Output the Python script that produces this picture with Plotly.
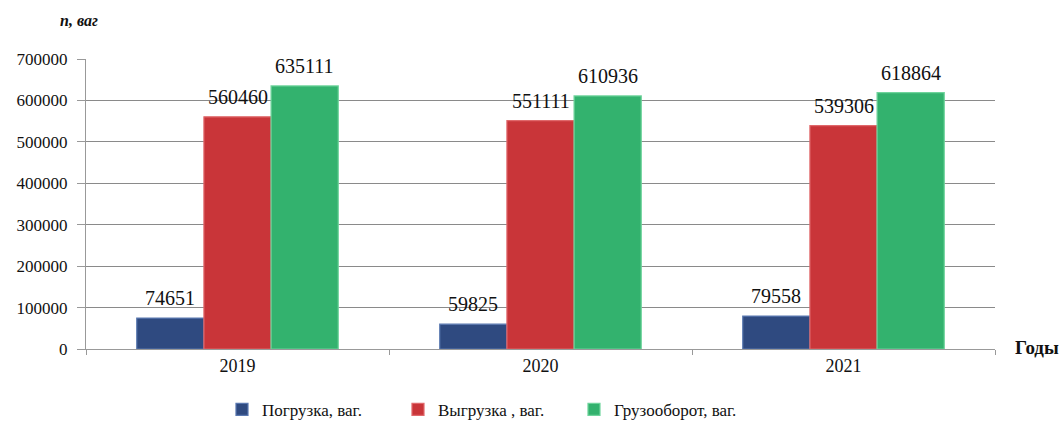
import plotly.graph_objects as go

years = ["2019", "2020", "2021"]
loading = [74651, 59825, 79558]
unloading = [560460, 551111, 539306]
turnover = [635111, 610936, 618864]

series = [
    ("Погрузка, ваг.", loading, "#2f4a80", "#5a78b0"),
    ("Выгрузка , ваг.", unloading, "#c93539", "#e0686b"),
    ("Грузооборот, ваг.", turnover, "#33b26e", "#6fd49c"),
]

font = "Liberation Serif, serif"
bargap = 0.335
bar_w = (1 - bargap) / len(series)  # width of one bar in category units

fig = go.Figure()
annotations = []
for k, (name, vals, color, edge) in enumerate(series):
    fig.add_trace(go.Bar(
        x=years, y=vals, name=name,
        marker=dict(color=color, line=dict(color=edge, width=1.2)),
    ))
    offset = (k - (len(series) - 1) / 2) * bar_w
    for i, v in enumerate(vals):
        annotations.append(dict(
            x=i + offset, y=v, xref="x", yref="y", text=str(v),
            showarrow=False, yanchor="bottom", yshift=7,
            font=dict(family=font, size=20, color="#111"),
        ))

annotations += [
    dict(text="<b><i>n, ваг</i></b>", x=-0.031, y=1.134, xref="paper", yref="paper",
         xanchor="left", yanchor="middle", showarrow=False,
         font=dict(family=font, size=16)),
    dict(text="<b>Годы</b>", x=1.0198, y=0, xref="paper", yref="paper",
         xanchor="left", yanchor="middle", showarrow=False, yshift=2,
         font=dict(family=font, size=19)),
]

fig.update_layout(
    width=1061, height=421,
    margin=dict(l=86, r=66, t=59, b=72, autoexpand=False),
    paper_bgcolor="white", plot_bgcolor="white",
    barmode="group", bargap=bargap, bargroupgap=0,
    font=dict(family=font, size=16, color="#111"),
    showlegend=True,
    legend=dict(orientation="h", x=0.1496, xanchor="left", y=-0.21, yanchor="middle",
                font=dict(family=font, size=17), itemwidth=30, tracegroupgap=0,
                entrywidth=131),
    xaxis=dict(showline=True, linecolor="#999", linewidth=1, ticks="outside",
               tickson="boundaries", ticklen=5, tickcolor="#999",
               tickfont=dict(family=font, size=18), showgrid=False),
    yaxis=dict(range=[0, 700000], dtick=100000, showgrid=True, gridcolor="#8a8a8a",
               gridwidth=1, showline=True, linecolor="#999", ticks="outside",
               ticklen=8, tickcolor="#999", tickformat="d", ticklabelstandoff=6,
               tickfont=dict(family=font, size=17), zeroline=False),
    annotations=annotations,
)

fig.write_html("out.html")
